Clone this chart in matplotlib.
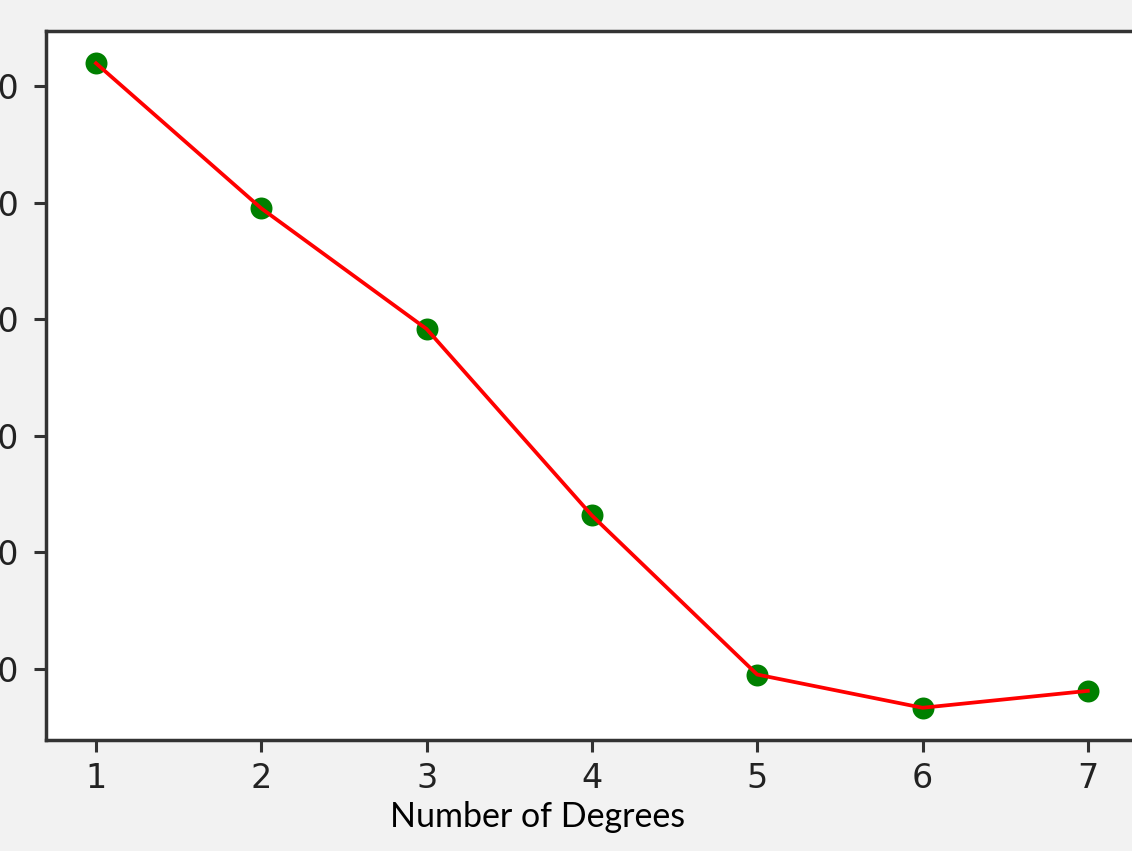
import matplotlib
matplotlib.use("Agg")
import matplotlib.pyplot as plt

plt.rcParams["font.size"] = 24

degrees = [1, 2, 3, 4, 5, 6, 7]
errors = [143.9, 119.0, 98.3, 66.3, 39.0, 33.3, 36.2]

fig = plt.figure(figsize=(11.32, 8.51), dpi=100, facecolor="#f2f2f2")
ax = fig.add_axes([46.4 / 1132, 111 / 851, 1091 / 1132, 709 / 851])
ax.set_facecolor("white")

ax.scatter(degrees, errors, s=250, color="green", zorder=2, linewidths=0)
ax.plot(degrees, errors, color="red", linewidth=2.7, zorder=3)

ax.set_xticks(degrees)
ax.set_yticks([40, 60, 80, 100, 120, 140])

for sp in ax.spines.values():
    sp.set_linewidth(2.5)
    sp.set_color("#333333")
ax.tick_params(axis="both", length=8.5, width=2.2, color="#333333",
               labelcolor="#222222", labelsize=24)
ax.tick_params(axis="x", pad=7.5)
ax.tick_params(axis="y", pad=11)

fig.text(538 / 1132, 1 - 817 / 851, "Number of Degrees", family="Lato",
         fontsize=24.5, ha="center", va="center", color="black")

fig.savefig("out.png", dpi=100, facecolor=fig.get_facecolor())
